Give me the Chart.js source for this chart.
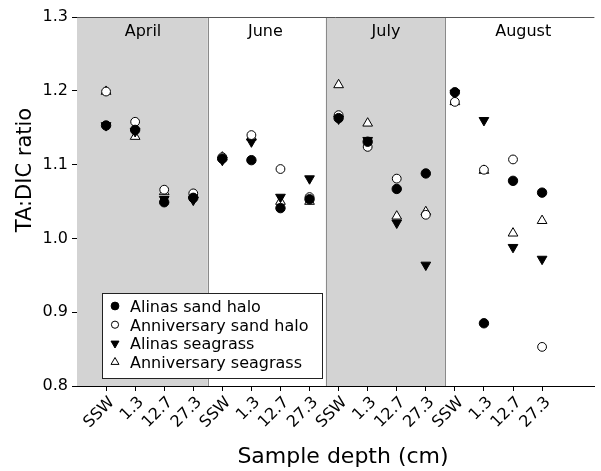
<!DOCTYPE html>
<html>
<head>
<meta charset="utf-8">
<script src="https://cdn.jsdelivr.net/npm/chart.js@4.4.0/dist/chart.umd.min.js"></script>
<style>
  html, body { margin: 0; padding: 0; background: #fff; }
  #wrap { width: 601px; height: 471px; }
</style>
</head>
<body>
<div id="wrap"><canvas id="chart"></canvas></div>
<script>
// sample depths, repeated for each month
const depthLabels = ['SSW', '1.3', '12.7', '27.3', 'SSW', '1.3', '12.7', '27.3',
                     'SSW', '1.3', '12.7', '27.3', 'SSW', '1.3', '12.7', '27.3'];
const monthNames = ['April', 'June', 'July', 'August'];

// TA:DIC ratio per sample position
const alinasSand          = [1.153, 1.147, 1.049, 1.055, 1.108, 1.106, 1.041, 1.053, 1.163, 1.131, 1.067, 1.088, 1.198, 0.885, 1.078, 1.062];
const anniversarySand     = [1.199, 1.158, 1.066, 1.061, 1.110, 1.140, 1.094, 1.056, 1.167, 1.124, 1.081, 1.032, 1.185, 1.093, 1.107, 0.853];
const alinasSeagrass      = [1.153, 1.145, 1.053, 1.052, 1.106, 1.131, 1.056, 1.081, 1.162, 1.133, 1.021, 0.964, 1.197, 1.160, 0.988, 0.972];
const anniversarySeagrass = [1.199, 1.138, 1.063, 1.059, 1.110, 1.137, 1.050, 1.050, 1.208, 1.156, 1.030, 1.036, 1.185, 1.092, 1.007, 1.024];

const FONT = '"DejaVu Sans", "Liberation Sans", sans-serif';

// shaded months (x units) and label centres
const shadedPanels = [[-1, 3.5], [7.56, 11.66]];
const panelLines = [3.5, 7.56, 11.66];
const monthCentres = [1.27, 5.48, 9.63, 14.35];

function pts(values) {
  return values.map((v, i) => ({ x: i, y: v }));
}

const series = [
  { label: 'Alinas sand halo', data: pts(alinasSand), pointStyle: 'circle', pointRadius: 4.7,
    pointBackgroundColor: '#000', pointBorderColor: '#000', rotation: 0 },
  { label: 'Anniversary sand halo', data: pts(anniversarySand), pointStyle: 'circle', pointRadius: 4.4,
    pointBackgroundColor: '#fff', pointBorderColor: '#000', rotation: 0 },
  { label: 'Alinas seagrass', data: pts(alinasSeagrass), pointStyle: 'triangle', pointRadius: 5.6,
    pointBackgroundColor: '#000', pointBorderColor: '#000', rotation: 180 },
  { label: 'Anniversary seagrass', data: pts(anniversarySeagrass), pointStyle: 'triangle', pointRadius: 5.6,
    pointBackgroundColor: '#fff', pointBorderColor: '#000', rotation: 0 }
];

const panelsPlugin = {
  id: 'panels',
  beforeDatasetsDraw(chart) {
    const { ctx, chartArea: a, scales: { x } } = chart;
    ctx.save();
    ctx.fillStyle = '#d3d3d3';
    shadedPanels.forEach(([s, e]) => {
      const x0 = Math.max(x.getPixelForValue(s), a.left);
      const x1 = x.getPixelForValue(e);
      ctx.fillRect(x0, a.top, x1 - x0, a.bottom - a.top);
    });
    ctx.strokeStyle = '#8a8a8a';
    ctx.lineWidth = 1;
    panelLines.forEach(v => {
      const px = Math.round(x.getPixelForValue(v)) + 0.5;
      ctx.beginPath();
      ctx.moveTo(px, a.top);
      ctx.lineTo(px, a.bottom);
      ctx.stroke();
    });
    // top frame line
    ctx.strokeStyle = '#555';
    ctx.beginPath();
    ctx.moveTo(a.left, a.top + 0.5);
    ctx.lineTo(a.right, a.top + 0.5);
    ctx.stroke();
    // month names
    ctx.fillStyle = '#000';
    ctx.font = '16px ' + FONT;
    ctx.textAlign = 'center';
    ctx.textBaseline = 'alphabetic';
    monthNames.forEach((m, i) => {
      ctx.fillText(m, x.getPixelForValue(monthCentres[i]), a.top + 19);
    });
    ctx.restore();
  },
  afterDraw(chart) {
    const { ctx } = chart;
    ctx.save();
    // axis titles
    ctx.fillStyle = '#000';
    ctx.font = '22px ' + FONT;
    ctx.textAlign = 'center';
    ctx.textBaseline = 'alphabetic';
    ctx.fillText('Sample depth (cm)', 343, 463);
    ctx.translate(31, 170);
    ctx.rotate(-Math.PI / 2);
    ctx.font = '21px ' + FONT;
    ctx.fillText('TA:DIC ratio', 0, 0);
    ctx.restore();

    // legend box
    ctx.save();
    ctx.fillStyle = '#fff';
    ctx.fillRect(102, 293, 220, 85);
    ctx.strokeStyle = '#222';
    ctx.lineWidth = 1;
    ctx.strokeRect(102.5, 293.5, 220, 85);
    ctx.font = '16px ' + FONT;
    ctx.textAlign = 'left';
    ctx.textBaseline = 'alphabetic';
    series.forEach((s, i) => {
      const cy = 306 + i * 18.7;
      const cx = 115;
      ctx.fillStyle = s.pointBackgroundColor;
      ctx.strokeStyle = '#000';
      ctx.beginPath();
      if (s.pointStyle === 'circle') {
        ctx.arc(cx, cy, s.pointRadius - 0.8, 0, Math.PI * 2);
      } else {
        const r = s.pointRadius - 1;
        const dir = s.rotation === 180 ? 1 : -1;
        ctx.moveTo(cx, cy + dir * r);
        ctx.lineTo(cx - r * 0.866, cy - dir * r * 0.5);
        ctx.lineTo(cx + r * 0.866, cy - dir * r * 0.5);
        ctx.closePath();
      }
      ctx.fill();
      ctx.stroke();
      ctx.fillStyle = '#000';
      ctx.fillText(s.label, 130, 312 + i * 18.7);
    });
    ctx.restore();
  }
};

new Chart(document.getElementById('chart'), {
  type: 'scatter',
  data: { datasets: series.map(s => Object.assign({ pointBorderWidth: 1, pointHoverRadius: s.pointRadius }, s)) },
  options: {
    responsive: true,
    maintainAspectRatio: false,
    animation: false,
    layout: { padding: { top: 17, right: 0, left: 0, bottom: 0 } },
    plugins: { legend: { display: false }, tooltip: { enabled: false } },
    scales: {
      x: {
        type: 'linear',
        min: -1,
        max: 16.8,
        afterBuildTicks(scale) {
          scale.ticks = depthLabels.map((_, i) => ({ value: i }));
        },
        afterFit(scale) { scale.height = 85; },
        border: { display: true, color: '#000', width: 1 },
        grid: { drawOnChartArea: false, drawTicks: true, tickLength: 5, color: '#000' },
        ticks: {
          autoSkip: false,
          maxRotation: 45,
          minRotation: 45,
          padding: 2,
          labelOffset: 6,
          color: '#000',
          font: { family: FONT, size: 16 },
          callback: v => depthLabels[v] ?? ''
        }
      },
      y: {
        min: 0.8,
        max: 1.3,
        afterFit(scale) { scale.width = 77; },
        border: { display: true, color: '#000', width: 1 },
        grid: { drawOnChartArea: false, drawTicks: true, tickLength: 5, color: '#000' },
        ticks: {
          stepSize: 0.1,
          padding: 4,
          color: '#000',
          font: { family: FONT, size: 16 },
          callback: v => v.toFixed(1)
        }
      }
    }
  },
  plugins: [panelsPlugin]
});
</script>
</body>
</html>
